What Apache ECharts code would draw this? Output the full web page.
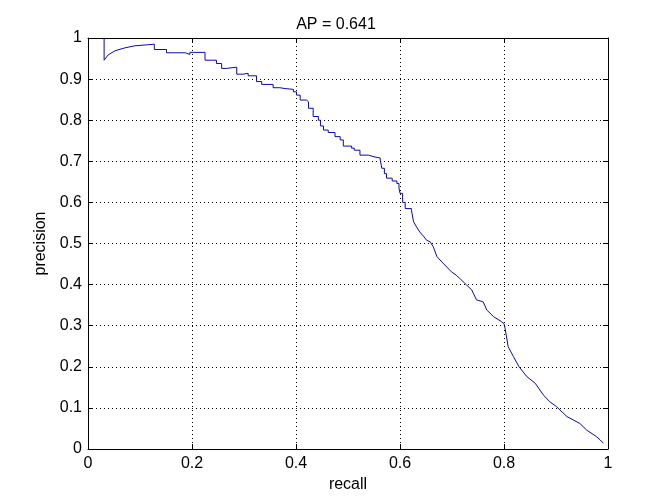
<!DOCTYPE html>
<html>
<head>
<meta charset="utf-8">
<script src="https://cdn.jsdelivr.net/npm/echarts@6/dist/echarts.min.js"></script>
<style>
html,body{margin:0;padding:0;background:#fff;}
#chart{width:672px;height:504px;}
</style>
</head>
<body>
<div id="chart"></div>
<script>
var titleText = 'AP = 0.641';
var xName = 'recall';
var yName = 'precision';

// first part of the curve (smooth rise after the initial drop)
var recallHead = [0.031,0.031,0.039,0.052,0.071,0.090,0.110,0.1275];
var precisionHead = [1.000,0.946,0.959,0.969,0.976,0.981,0.983,0.985];

// staircase part: each point = recall where a new precision level starts
var recallStep = [
0.1275,0.1276,0.151,0.187,0.196,0.225,0.240,0.243,0.247,0.257,
0.266,0.286,0.298,0.308,0.324,0.334,0.356,0.369,0.379,0.395,
0.401,0.408,0.420,0.424,0.433,0.443,0.447,0.453,0.462,0.475,
0.485,0.491,0.507,0.512,0.523,0.539,0.550,0.562,0.565,0.570,
0.574,0.585,0.594,0.598,0.600,0.605,0.610,0.622
];
var precisionStep = [
0.985,0.972,0.964,0.960,0.965,0.946,0.948,0.946,0.938,0.926,
0.929,0.912,0.914,0.908,0.894,0.887,0.879,0.877,0.875,0.869,
0.861,0.849,0.845,0.829,0.809,0.800,0.786,0.776,0.770,0.760,
0.752,0.737,0.732,0.727,0.715,0.711,0.708,0.703,0.683,0.670,
0.659,0.652,0.646,0.635,0.622,0.600,0.585,0.581
];

// lower part of the curve
var recallTail = [
0.622,0.626,0.632,0.638,0.645,0.651,0.658,0.664,0.671,0.683,
0.699,0.708,0.715,0.728,0.738,0.747,0.760,0.767,0.780,0.795,
0.800,0.802,0.808,0.818,0.829,0.844,0.860,0.876,0.888,0.901,
0.921,0.946,0.959,0.978,0.985,0.991
];
var precisionTail = [
0.581,0.553,0.540,0.528,0.518,0.508,0.504,0.492,0.468,0.452,
0.431,0.423,0.415,0.399,0.387,0.363,0.358,0.338,0.322,0.310,
0.305,0.294,0.249,0.225,0.200,0.176,0.160,0.131,0.115,0.103,
0.079,0.062,0.046,0.030,0.022,0.014
];

var xTicks = [0, 0.2, 0.4, 0.6, 0.8, 1];
var yTicks = [0, 0.1, 0.2, 0.3, 0.4, 0.5, 0.6, 0.7, 0.8, 0.9, 1];

function pairs(xs, ys){ return xs.map(function(x, i){ return [x, ys[i]]; }); }

var FONT = "'Liberation Sans', Arial, sans-serif";
var FS = 16;
var LINE = '#0a0ab0';

var chart = echarts.init(document.getElementById('chart'), null, {renderer:'canvas'});
function fmt(v){ return String(Math.round(v*10)/10); }
var dotted = {color:'#000', width:1, type:[1,3]};
function lineSeries(d, step){
  return {
    type:'line', data:d, xAxisIndex:0, yAxisIndex:0, step:step,
    showSymbol:false, symbol:'none',
    lineStyle:{color:LINE, width:1},
    silent:true
  };
}
chart.setOption({
  animation:false,
  backgroundColor:'#fff',
  title:{text:titleText, left:'center', top:12, textStyle:{fontFamily:FONT, fontSize:FS, fontWeight:'normal', color:'#000'}},
  grid:{left:88, right:64, top:38, bottom:55, show:false},
  xAxis:[{
    type:'value', min:0, max:1, interval:0.2, position:'bottom',
    name:xName, nameLocation:'middle', nameGap:28,
    nameTextStyle:{fontFamily:FONT, fontSize:FS, color:'#000'},
    axisLine:{show:true, onZero:false, lineStyle:{color:'#000', width:1}},
    axisTick:{show:true, inside:true, length:5, lineStyle:{color:'#000'}},
    axisLabel:{fontFamily:FONT, fontSize:FS, color:'#000', margin:7, formatter:fmt},
    splitLine:{show:true, lineStyle:dotted}
  },{
    type:'value', min:0, max:1, interval:0.2, position:'top',
    axisLine:{show:true, onZero:false, lineStyle:{color:'#000', width:1}},
    axisTick:{show:true, inside:true, length:5, lineStyle:{color:'#000'}},
    axisLabel:{show:false}, splitLine:{show:false}
  }],
  yAxis:[{
    type:'value', min:0, max:1, interval:0.1, position:'left',
    name:yName, nameLocation:'middle', nameGap:36,
    nameTextStyle:{fontFamily:FONT, fontSize:FS, color:'#000'},
    axisLine:{show:true, onZero:false, lineStyle:{color:'#000', width:1}},
    axisTick:{show:true, inside:true, length:5, lineStyle:{color:'#000'}},
    axisLabel:{fontFamily:FONT, fontSize:FS, color:'#000', margin:6, formatter:fmt},
    splitLine:{show:true, lineStyle:dotted}
  },{
    type:'value', min:0, max:1, interval:0.1, position:'right',
    axisLine:{show:true, onZero:false, lineStyle:{color:'#000', width:1}},
    axisTick:{show:true, inside:true, length:5, lineStyle:{color:'#000'}},
    axisLabel:{show:false}, splitLine:{show:false}
  }],
  series:[
    lineSeries(pairs(recallHead, precisionHead), false),
    lineSeries(pairs(recallStep, precisionStep), 'end'),
    lineSeries(pairs(recallTail, precisionTail), false)
  ]
});
</script>
</body>
</html>
